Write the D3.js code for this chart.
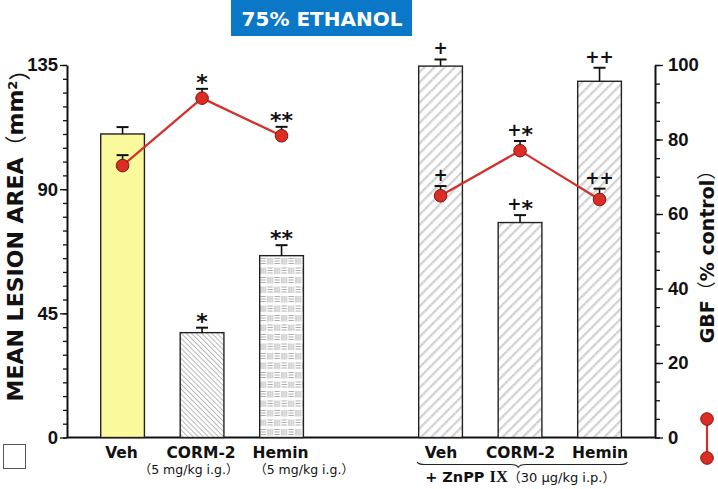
<!DOCTYPE html>
<html>
<head>
<meta charset="utf-8">
<script src="https://cdn.jsdelivr.net/npm/d3@7"></script>
<style>
  html, body { margin: 0; padding: 0; background: #fff; }
  svg { display: block; }
</style>
</head>
<body>
<div id="chart"></div>
<script>
// Data
const groupLabels = ["Veh", "CORM-2", "Hemin", "Veh", "CORM-2", "Hemin"];
const slots = ["Veh", "CORM-2", "Hemin", "gap", "ZnPP Veh", "ZnPP CORM-2", "ZnPP Hemin"];
const barSlots = ["Veh", "CORM-2", "Hemin", "ZnPP Veh", "ZnPP CORM-2", "ZnPP Hemin"];
const lesion = [110, 38, 65.9, 134.6, 77.9, 129.1];
const lesionErr = [2.5, 1.8, 3.8, 2.4, 2.7, 4.9];
const gbf = [73, 91.1, 81, 64.9, 77, 63.9];
const gbfErr = [2.8, 2.5, 2.4, 2.6, 2.6, 2.9];
const lesionMarks = ["", "*", "**", "+", "+*", "++"];
const gbfMarks = ["", "*", "**", "+", "+*", "++"];
const barFills = ["url(#yellow)", "url(#hatchThin)", "url(#weave)", "url(#hatchWide)", "url(#hatchWide)", "url(#hatchWide)"];
const lesionTicks = [0, 45, 90, 135];
const gbfTicks = [0, 20, 40, 60, 80, 100];

const width = 718;
const height = 489;

const svg = d3.select('#chart')
    .append('svg')
    .attr('width', width)
    .attr('height', height);

// Patterns
const defs = svg.append('defs');

defs.append('pattern')
    .attr('id', 'yellow')
    .attr('patternUnits', 'userSpaceOnUse')
    .attr('width', 4).attr('height', 4)
    .append('rect')
    .attr('width', 4).attr('height', 4)
    .attr('fill', '#fafa9c');

const thin = defs.append('pattern')
    .attr('id', 'hatchThin')
    .attr('patternUnits', 'userSpaceOnUse')
    .attr('width', 3.6).attr('height', 10)
    .attr('patternTransform', 'rotate(-45)');
thin.append('rect').attr('width', 3.6).attr('height', 10).attr('fill', '#fff');
thin.append('line')
    .attr('x1', 0.5).attr('y1', 0).attr('x2', 0.5).attr('y2', 10)
    .attr('stroke', '#a4a4a4').attr('stroke-width', 0.8);

const wide = defs.append('pattern')
    .attr('id', 'hatchWide')
    .attr('patternUnits', 'userSpaceOnUse')
    .attr('width', 7.2).attr('height', 10)
    .attr('patternTransform', 'rotate(45)');
wide.append('rect').attr('width', 7.2).attr('height', 10).attr('fill', '#fff');
wide.append('line')
    .attr('x1', 2).attr('y1', 0).attr('x2', 2).attr('y2', 10)
    .attr('stroke', '#cacaca').attr('stroke-width', 2.2);
wide.append('line')
    .attr('x1', 2).attr('y1', 0).attr('x2', 2).attr('y2', 10)
    .attr('stroke', '#ececec').attr('stroke-width', 0.8)
    .attr('stroke-dasharray', '1.5,1.5');

// basket weave: horizontal and vertical line blocks in a checkerboard
const weave = defs.append('pattern')
    .attr('id', 'weave')
    .attr('patternUnits', 'userSpaceOnUse')
    .attr('x', 259.5).attr('y', 0)
    .attr('width', 14).attr('height', 19);
weave.append('rect').attr('width', 14).attr('height', 19).attr('fill', '#fff');
function hBlock(ox, oy) {
    [2, 4.5, 7].forEach(dy => weave.append('line')
        .attr('x1', ox + 1).attr('x2', ox + 6.5)
        .attr('y1', oy + dy).attr('y2', oy + dy)
        .attr('stroke', '#a2a2a2').attr('stroke-width', 0.9));
}
function vBlock(ox, oy) {
    [1.5, 3.7, 5.9].forEach(dx => weave.append('line')
        .attr('x1', ox + dx).attr('x2', ox + dx)
        .attr('y1', oy + 1.5).attr('y2', oy + 8)
        .attr('stroke', '#a2a2a2').attr('stroke-width', 0.9));
}
vBlock(0, 0); hBlock(7, 0); hBlock(0, 9.5); vBlock(7, 9.5);

// Scales
const x = d3.scaleBand()
    .domain(slots)
    .range([100.7, 621.4])
    .paddingInner(0.45)
    .paddingOuter(0);

const yL = d3.scaleLinear().domain([0, 135]).range([437.5, 65]);
const yR = d3.scaleLinear().domain([0, 100]).range([437.5, 65]);

const axisX0 = 67;
const axisX1 = 655;
const tickFont = "'Liberation Sans', Arial, sans-serif";
const labelFont = "'DejaVu Sans', sans-serif";
const cjkFont = "'DejaVu Sans', 'Noto Sans CJK SC', sans-serif";

// Left axis
const leftG = svg.append('g').attr('transform', `translate(${axisX0},0)`);
leftG.call(d3.axisLeft(yL).tickValues(d3.range(0, 136, 5)).tickSize(4).tickFormat('').tickSizeOuter(0));
leftG.call(g => g.select('.domain').remove());
const leftMajor = svg.append('g').attr('transform', `translate(${axisX0},0)`)
    .call(d3.axisLeft(yL).tickValues(lesionTicks).tickSize(7).tickPadding(2).tickSizeOuter(0));
[leftG, leftMajor].forEach(g => {
    g.selectAll('line').attr('stroke', '#111').attr('stroke-width', 1.3);
    g.selectAll('path.domain').attr('stroke', '#111').attr('stroke-width', 2);
});
leftMajor.selectAll('text')
    .attr('fill', '#111')
    .style('font-family', tickFont)
    .style('font-weight', 'bold')
    .style('font-size', '18.5px');

// Right axis
const rightG = svg.append('g').attr('transform', `translate(${axisX1},0)`);
rightG.call(d3.axisRight(yR).tickValues(d3.range(0, 101, 5)).tickSize(5).tickFormat('').tickSizeOuter(0));
rightG.call(g => g.select('.domain').remove());
const rightMajor = svg.append('g').attr('transform', `translate(${axisX1},0)`)
    .call(d3.axisRight(yR).tickValues(gbfTicks).tickSize(8).tickPadding(5).tickSizeOuter(0));
[rightG, rightMajor].forEach(g => {
    g.selectAll('line').attr('stroke', '#111').attr('stroke-width', 1.3);
    g.selectAll('path.domain').attr('stroke', '#111').attr('stroke-width', 2);
});
rightMajor.selectAll('text')
    .attr('fill', '#111')
    .style('font-family', tickFont)
    .style('font-weight', 'bold')
    .style('font-size', '18.5px');

// Baseline
svg.append('line')
    .attr('x1', axisX0).attr('x2', axisX1)
    .attr('y1', yL(0)).attr('y2', yL(0))
    .attr('stroke', '#111').attr('stroke-width', 2);

// Bars
const barData = barSlots.map((s, i) => ({
    slot: s, value: lesion[i], err: lesionErr[i], mark: lesionMarks[i], fill: barFills[i]
}));

svg.append('g')
    .selectAll('rect')
    .data(barData)
    .join('rect')
    .attr('x', d => x(d.slot))
    .attr('y', d => yL(d.value))
    .attr('width', x.bandwidth())
    .attr('height', d => yL(0) - yL(d.value))
    .attr('fill', d => d.fill)
    .attr('stroke', '#222')
    .attr('stroke-width', 1.4);

// Error bars (stick + cap)
function drawErr(g, cx, yBase, yTop) {
    g.append('line')
        .attr('x1', cx).attr('x2', cx)
        .attr('y1', yBase).attr('y2', yTop)
        .attr('stroke', '#111').attr('stroke-width', 1.6);
    g.append('line')
        .attr('x1', cx - 6).attr('x2', cx + 6)
        .attr('y1', yTop).attr('y2', yTop)
        .attr('stroke', '#111').attr('stroke-width', 2);
}

// Significance marks; asterisks are enlarged and dropped to sit level with the plus signs
function drawMark(g, cx, yTop, mark) {
    if (!mark) return;
    const t = g.append('text')
        .attr('x', cx)
        .attr('y', yTop - 5)
        .attr('text-anchor', 'middle')
        .attr('fill', '#111')
        .style('font-family', labelFont)
        .style('font-weight', 'bold')
        .style('font-size', '17px');
    let prev = '';
    for (const ch of mark) {
        let dy = 0;
        if (ch === '*' && prev !== '*') dy = 6;
        if (ch === '+' && prev === '*') dy = -6;
        t.append('tspan')
            .attr('dy', dy)
            .style('font-size', ch === '*' ? '22px' : '17px')
            .text(ch);
        prev = ch;
    }
}

const errG = svg.append('g');
barData.forEach(d => {
    const cx = x(d.slot) + x.bandwidth() / 2;
    drawErr(errG, cx, yL(d.value), yL(d.value + d.err));
    drawMark(errG, cx, yL(d.value + d.err), d.mark);
});

// GBF line + dots
const gbfData = barSlots.map((s, i) => ({
    slot: s, value: gbf[i], err: gbfErr[i], mark: gbfMarks[i], group: i < 3 ? 0 : 1
}));
const cxOf = d => x(d.slot) + x.bandwidth() / 2;

const dotG = svg.append('g');
gbfData.forEach(d => {
    drawErr(dotG, cxOf(d), yR(d.value), yR(d.value + d.err));
    drawMark(dotG, cxOf(d), yR(d.value + d.err), d.mark);
});

const line = d3.line().x(cxOf).y(d => yR(d.value));
[0, 1].forEach(grp => {
    dotG.append('path')
        .datum(gbfData.filter(d => d.group === grp))
        .attr('d', line)
        .attr('fill', 'none')
        .attr('stroke', '#d3302a')
        .attr('stroke-width', 2.2);
});

dotG.selectAll('circle')
    .data(gbfData)
    .join('circle')
    .attr('cx', cxOf)
    .attr('cy', d => yR(d.value))
    .attr('r', 6.3)
    .attr('fill', '#dc2d25')
    .attr('stroke', '#7d1810')
    .attr('stroke-width', 1);

// Category labels
svg.append('g')
    .selectAll('text')
    .data(barSlots)
    .join('text')
    .attr('x', (d, i) => x(d) + x.bandwidth() / 2 + (i < 3 ? -1 : 0.5))
    .attr('y', 458)
    .attr('text-anchor', 'middle')
    .attr('fill', '#111')
    .style('font-family', labelFont)
    .style('font-weight', 'bold')
    .style('font-size', '15.5px')
    .text((d, i) => groupLabels[i]);

// dose notes under CORM-2 and Hemin
[["CORM-2", -13.5], ["Hemin", 22.5]].forEach(([s, off]) => {
    svg.append('text')
        .attr('x', x(s) + x.bandwidth() / 2 + off)
        .attr('y', 474)
        .attr('text-anchor', 'middle')
        .attr('fill', '#111')
        .style('font-family', cjkFont)
        .style('font-size', '12.5px')
        .text('（5 mg/kg i.g.）');
});

// brace under ZnPP group
const bx0 = x('ZnPP Veh') - 1.5;
const bx1 = x('ZnPP Hemin') + x.bandwidth() + 6;
const bm = (bx0 + bx1) / 2 - 4;
svg.append('path')
    .attr('d', `M${bx0},462 Q${bx0 + 1},464.5 ${bx0 + 8},464.5 L${bm - 8},464.5 Q${bm - 1},464.5 ${bm},467.5
                M${bm},467.5 Q${bm + 1},464.5 ${bm + 8},464.5 L${bx1 - 8},464.5 Q${bx1 - 1},464.5 ${bx1},462`)
    .attr('fill', 'none')
    .attr('stroke', '#222')
    .attr('stroke-width', 1.1);

const zn = svg.append('text')
    .attr('x', bm + 2)
    .attr('y', 482)
    .attr('text-anchor', 'middle')
    .attr('fill', '#111')
    .style('font-family', labelFont);
zn.append('tspan').style('font-weight', 'bold').style('font-size', '14.5px').text('+ ZnPP ');
zn.append('tspan').style('font-family', "'Liberation Serif', serif").style('font-weight', 'bold').style('font-size', '16.5px').text('IX');
zn.append('tspan').style('font-family', cjkFont).style('font-size', '13px').text('（30 µg/kg i.p.）');

// Axis titles
const yTitle = svg.append('text')
    .attr('transform', 'translate(23,230) rotate(-90)')
    .attr('text-anchor', 'middle')
    .attr('fill', '#111')
    .style('font-family', cjkFont)
    .style('font-weight', 'bold')
    .style('font-size', '22px');
yTitle.append('tspan').text('MEAN LESION AREA');
yTitle.append('tspan').style('font-weight', 'normal').text('（');
yTitle.append('tspan').text('mm');
yTitle.append('tspan').attr('dy', '-0.45em').style('font-size', '13px').text('2');
yTitle.append('tspan').attr('dy', '0.45em').style('font-weight', 'normal').text('）');

const gTitle = svg.append('text')
    .attr('transform', 'translate(714,252) rotate(-90)')
    .attr('text-anchor', 'middle')
    .attr('fill', '#111')
    .style('font-family', cjkFont)
    .style('font-weight', 'bold')
    .style('font-size', '19px');
gTitle.append('tspan').text('GBF');
gTitle.append('tspan').style('font-weight', 'normal').text('（');
gTitle.append('tspan').text('% control');
gTitle.append('tspan').style('font-weight', 'normal').text('）');

// Title box
svg.append('rect')
    .attr('x', 231).attr('y', 0)
    .attr('width', 181).attr('height', 36)
    .attr('fill', '#0a78c6');
svg.append('text')
    .attr('x', 322).attr('y', 26)
    .attr('text-anchor', 'middle')
    .attr('fill', '#fff')
    .style('font-family', labelFont)
    .style('font-weight', 'bold')
    .style('font-size', '20px')
    .text('75% ETHANOL');

// Legend keys
svg.append('rect')
    .attr('x', 3.5).attr('y', 444.5)
    .attr('width', 22).attr('height', 24)
    .attr('fill', '#fff')
    .attr('stroke', '#555')
    .attr('stroke-width', 1);

const legY = [419, 458];
svg.append('line')
    .attr('x1', 707).attr('x2', 707)
    .attr('y1', legY[0]).attr('y2', legY[1])
    .attr('stroke', '#d3302a').attr('stroke-width', 2.2);
svg.selectAll('circle.leg')
    .data(legY)
    .join('circle')
    .attr('class', 'leg')
    .attr('cx', 707)
    .attr('cy', d => d)
    .attr('r', 6.3)
    .attr('fill', '#dc2d25')
    .attr('stroke', '#7d1810')
    .attr('stroke-width', 1);
</script>
</body>
</html>
